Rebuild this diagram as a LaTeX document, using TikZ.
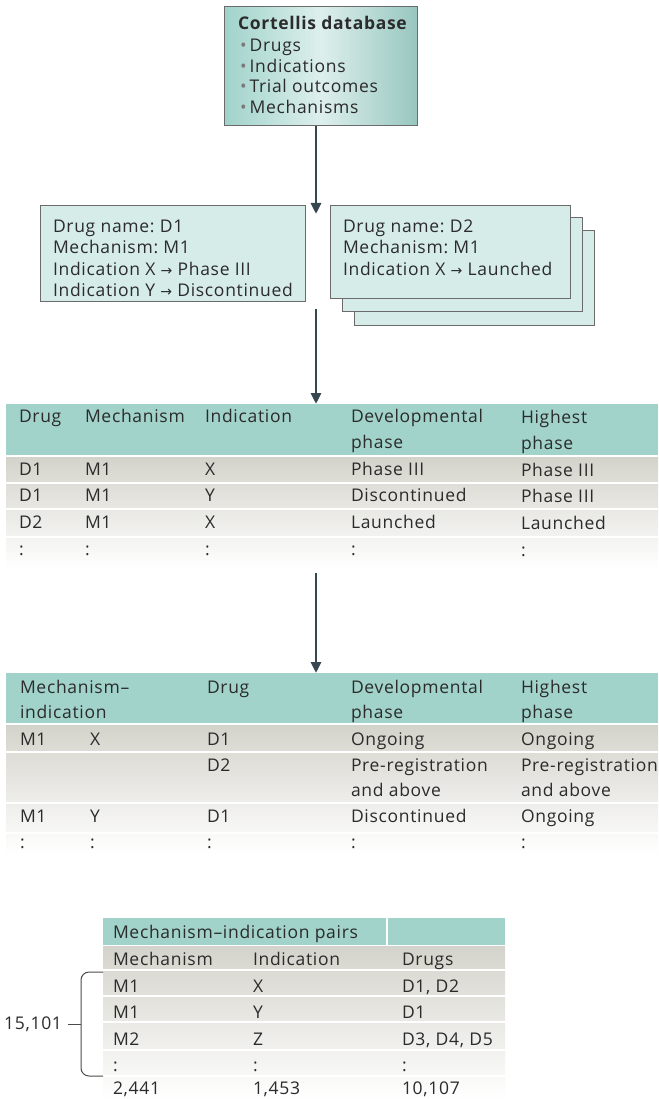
\documentclass[tikz,border=0pt]{standalone}
\usepackage{fontspec}
\setmainfont{Open Sans}[LetterSpace=4]
\newfontfamily\arrfont{DejaVu Sans}
\usetikzlibrary{arrows.meta}
\definecolor{tealH}{HTML}{A1D3CB}
\definecolor{tealL}{HTML}{DDEFEC}
\definecolor{boxF}{HTML}{D6ECE8}
\definecolor{rowG}{HTML}{D4D3CB}
\definecolor{arrowC}{HTML}{37474F}
\definecolor{txt}{HTML}{2B2B2B}
\definecolor{bord}{HTML}{6B6B6B}
\definecolor{bul}{HTML}{7A7A7A}
\newcommand{\ra}{{\arrfont\fontsize{14}{16}\selectfont →}}
\newcommand{\bl}{{\color{bul}•}\hspace{3pt}}
\frenchspacing
\begin{document}
\begin{tikzpicture}[x=1pt,y=-1pt,
  lbl/.style={anchor=base west, inner sep=0pt, outer sep=0pt, text=txt, font=\fontsize{17.5}{21}\selectfont},
  card/.style={draw=bord, line width=1.2pt, fill=boxF, anchor=north west, inner sep=0pt},
  flow/.style={draw=arrowC, line width=2.8pt, -{Triangle[length=11pt,width=10pt]}},
  hdr/.style={fill=tealH},
  sep/.style={draw=white, line width=1.5pt},
  brace/.style={draw=txt!85, line width=1pt},
]
\useasboundingbox (0,0) rectangle (658,1099);

% --- top database box
\node[draw=bord, line width=1.2pt, left color=tealH, right color=tealH!90!black!60!tealH, middle color=tealL,
      anchor=north west, minimum width=193pt, minimum height=119pt, inner sep=0pt] (db) at (224,6) {};
\node[lbl, font=\fontsize{17.5}{21}\selectfont\bfseries] (dbt) at (238,30) {Cortellis database};
\node[lbl] (db1) at (240,52) {\bl Drugs};
\node[lbl] (db2) at (240,73) {\bl Indications};
\node[lbl] (db3) at (240,93) {\bl Trial outcomes};
\node[lbl] (db4) at (240,114) {\bl Mechanisms};

% --- drug cards
\node[card, minimum width=265pt, minimum height=96pt] (c1) at (40,205) {};
\node[lbl] (c1a) at (53,233) {Drug name: D1};
\node[lbl] (c1b) at (53,254) {Mechanism: M1};
\node[lbl] (c1c) at (53,275) {Indication X \ra{} Phase III};
\node[lbl] (c1d) at (53,296) {Indication Y \ra{} Discontinued};

\node[card, minimum width=240pt, minimum height=95pt] (c2c) at (354,230) {};
\node[card, minimum width=240pt, minimum height=94pt] (c2b) at (342,217) {};
\node[card, minimum width=240pt, minimum height=93pt] (c2a) at (330,205) {};
\node[lbl] (c2t1) at (343,233) {Drug name: D2};
\node[lbl] (c2t2) at (343,254) {Mechanism: M1};
\node[lbl] (c2t3) at (343,275) {Indication X \ra{} Launched};

% --- arrows
\coordinate (a1e) at (316,214);
\coordinate (a2s) at (316,309);
\draw[flow] (db.south -| a1e) -- (a1e);

% --- table 1
\fill[hdr] (6,404) rectangle (658,455);
\shade[top color=rowG, bottom color=white] (6,457) rectangle (658,568);
\draw[sep] (6,483) -- (658,483);
\draw[sep] (6,509) -- (658,509);
\draw[sep] (6,537) -- (658,537);
\node[anchor=north, inner sep=0pt, minimum width=652pt, minimum height=164pt] (t1) at (332,404) {};
\draw[flow] (a2s) -- (t1.north -| a2s);

\node[lbl] (h11) at (19,422) {Drug};
\node[lbl] (h12) at (85,422) {Mechanism};
\node[lbl] (h13) at (205,422) {Indication};
\node[lbl] (h14) at (351,422) {Developmental};
\node[lbl] (h14b) at (351,448) {phase};
\node[lbl] (h15) at (521,423) {Highest};
\node[lbl] (h15b) at (521,449) {phase};

\node[lbl] (r11) at (19,475) {D1};
\node[lbl] (r12) at (85,475) {M1};
\node[lbl] (r13) at (205,475) {X};
\node[lbl] (r14) at (351,475) {Phase III};
\node[lbl] (r15) at (521,476) {Phase III};
\node[lbl] (r21) at (19,501) {D1};
\node[lbl] (r22) at (85,501) {M1};
\node[lbl] (r23) at (205,501) {Y};
\node[lbl] (r24) at (351,501) {Discontinued};
\node[lbl] (r25) at (521,502) {Phase III};
\node[lbl] (r31) at (19,528) {D2};
\node[lbl] (r32) at (85,528) {M1};
\node[lbl] (r33) at (205,528) {X};
\node[lbl] (r34) at (351,528) {Launched};
\node[lbl] (r35) at (521,529) {Launched};
\node[lbl] (r41) at (19,555) {:};
\node[lbl] (r42) at (85,555) {:};
\node[lbl] (r43) at (205,555) {:};
\node[lbl] (r44) at (351,555) {:};
\node[lbl] (r45) at (521,556) {:};

% --- table 2
\fill[hdr] (6,673) rectangle (658,723);
\shade[top color=rowG, bottom color=white] (6,725) rectangle (658,854);
\draw[sep] (6,752) -- (658,752);
\draw[sep] (6,803) -- (658,803);
\draw[sep] (6,833) -- (658,833);
\node[anchor=north, inner sep=0pt, minimum width=652pt, minimum height=181pt] (t2) at (332,673) {};
\draw[flow] (t1.south -| a2s) ++(0,5) coordinate (a3s) -- (t2.north -| a2s);

\node[lbl] (g11) at (20,693) {Mechanism–};
\node[lbl] (g11b) at (20,718) {indication};
\node[lbl] (g12) at (207,693) {Drug};
\node[lbl] (g13) at (351,693) {Developmental};
\node[lbl] (g13b) at (351,718) {phase};
\node[lbl] (g14) at (521,693) {Highest};
\node[lbl] (g14b) at (521,718) {phase};

\node[lbl] (s11) at (20,745) {M1};
\node[lbl] (s12) at (90,745) {X};
\node[lbl] (s13) at (207,745) {D1};
\node[lbl] (s14) at (351,745) {Ongoing};
\node[lbl] (s15) at (521,745) {Ongoing};
\node[lbl] (s23) at (207,771) {D2};
\node[lbl] (s24) at (351,771) {Pre-registration};
\node[lbl] (s24b) at (351,796) {and above};
\node[lbl] (s25) at (521,771) {Pre-registration};
\node[lbl] (s25b) at (521,796) {and above};
\node[lbl] (s31) at (20,822) {M1};
\node[lbl] (s32) at (90,822) {Y};
\node[lbl] (s33) at (207,822) {D1};
\node[lbl] (s34) at (351,822) {Discontinued};
\node[lbl] (s35) at (521,822) {Ongoing};
\node[lbl] (s41) at (20,848) {:};
\node[lbl] (s42) at (90,848) {:};
\node[lbl] (s43) at (207,848) {:};
\node[lbl] (s44) at (351,848) {:};
\node[lbl] (s45) at (521,848) {:};

% --- table 3
\fill[hdr] (103,918) rectangle (505,945);
\draw[sep] (387,918) -- (387,945);
\shade[top color=rowG, bottom color=white] (103,946) rectangle (505,1099);
\draw[sep] (103,970) -- (505,970);
\draw[sep] (103,996) -- (505,996);
\draw[sep] (103,1022) -- (505,1022);
\draw[sep] (103,1050) -- (505,1050);
\draw[sep] (103,1076) -- (505,1076);

\node[lbl] (p0) at (113,938) {Mechanism–indication pairs};
\node[lbl] (p11) at (113,965) {Mechanism};
\node[lbl] (p12) at (253,965) {Indication};
\node[lbl] (p13) at (402,965) {Drugs};
\node[lbl] (p21) at (113,992) {M1};
\node[lbl] (p22) at (253,992) {X};
\node[lbl] (p23) at (402,992) {D1, D2};
\node[lbl] (p31) at (113,1018) {M1};
\node[lbl] (p32) at (253,1018) {Y};
\node[lbl] (p33) at (402,1018) {D1};
\node[lbl] (p41) at (113,1045) {M2};
\node[lbl] (p42) at (253,1045) {Z};
\node[lbl] (p43) at (402,1045) {D3, D4, D5};
\node[lbl] (p51) at (113,1071) {:};
\node[lbl] (p52) at (253,1071) {:};
\node[lbl] (p53) at (402,1071) {:};
\node[lbl] (p61) at (113,1094) {2,441};
\node[lbl] (p62) at (253,1094) {1,453};
\node[lbl] (p63) at (402,1094) {10,107};

% --- brace
\coordinate (bt) at (103,972);
\coordinate (bb) at (103,1076);
\coordinate (bm) at (81,1024);
\draw[brace, rounded corners=8pt] (bt) -- (bt -| bm) -- (bb -| bm) -- (bb);
\node[lbl, anchor=base east] (cnt) at (62,1029) {15,101};
\draw[brace] (bm) -- ++(-13,0);
\end{tikzpicture}
\end{document}
